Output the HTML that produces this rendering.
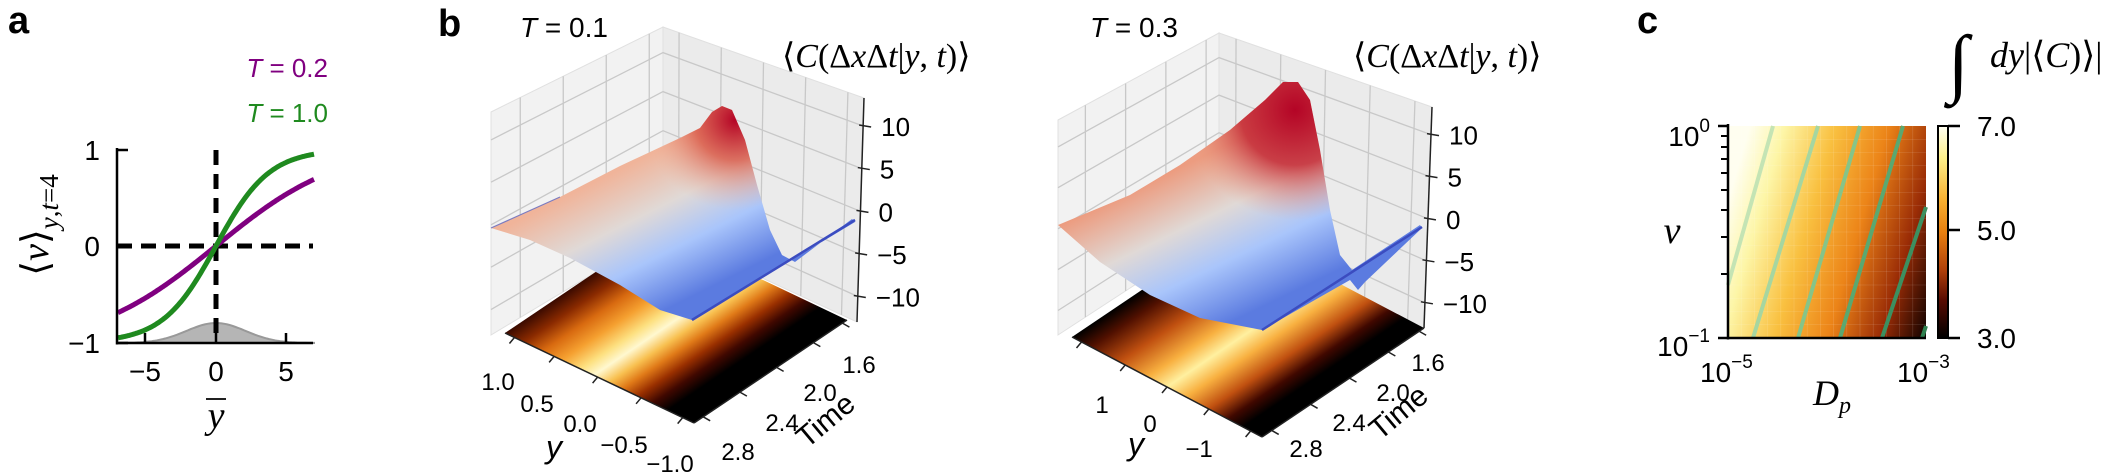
<!DOCTYPE html>
<html><head><meta charset="utf-8"><style>
html,body{margin:0;padding:0;background:#fff;}
svg{display:block;font-family:"Liberation Sans",sans-serif;}
.m{font-family:"Liberation Serif",serif;}
</style></head><body>
<svg id="s" width="2121" height="472" viewBox="0 0 2121 472" xmlns="http://www.w3.org/2000/svg">
<defs>
<linearGradient id="hm1" gradientUnits="userSpaceOnUse" x1="505" y1="333" x2="605.6" y2="482.5">
<stop offset="0" stop-color="#3a0a00"/><stop offset="0.1" stop-color="#8a2a00"/><stop offset="0.2" stop-color="#d86a10"/><stop offset="0.3" stop-color="#f5a030"/><stop offset="0.4" stop-color="#fde080"/><stop offset="0.47" stop-color="#fff8d0"/><stop offset="0.55" stop-color="#f8c050"/><stop offset="0.62" stop-color="#e07a18"/><stop offset="0.7" stop-color="#9a3000"/><stop offset="0.78" stop-color="#400800"/><stop offset="0.86" stop-color="#000"/>
</linearGradient>
<linearGradient id="hm2" gradientUnits="userSpaceOnUse" x1="1072" y1="337" x2="1177.5" y2="493.8">
<stop offset="0" stop-color="#000"/><stop offset="0.1" stop-color="#501000"/><stop offset="0.25" stop-color="#c05010"/><stop offset="0.4" stop-color="#f8b040"/><stop offset="0.5" stop-color="#fff0a0"/><stop offset="0.6" stop-color="#f8b040"/><stop offset="0.72" stop-color="#c05010"/><stop offset="0.82" stop-color="#400800"/><stop offset="0.9" stop-color="#000"/>
</linearGradient>
<linearGradient id="sf1" gradientUnits="userSpaceOnUse" x1="600" y1="180" x2="665" y2="310">
<stop offset="0" stop-color="#f0b49a"/><stop offset="0.35" stop-color="#e0d9d6"/><stop offset="0.65" stop-color="#a9c5fb"/><stop offset="1" stop-color="#5b7be0"/>
</linearGradient>
<linearGradient id="sf2" gradientUnits="userSpaceOnUse" x1="1165" y1="175" x2="1235" y2="320">
<stop offset="0" stop-color="#ec9c80"/><stop offset="0.35" stop-color="#e0d9d6"/><stop offset="0.65" stop-color="#a9c5fb"/><stop offset="1" stop-color="#5b7be0"/>
</linearGradient>
<radialGradient id="rd1" gradientUnits="userSpaceOnUse" cx="735" cy="120" r="90">
<stop offset="0" stop-color="#b40426"/><stop offset="0.45" stop-color="#d95847" stop-opacity="0.8"/><stop offset="1" stop-color="#f0b49a" stop-opacity="0"/>
</radialGradient>
<radialGradient id="rd2" gradientUnits="userSpaceOnUse" cx="1295" cy="110" r="110">
<stop offset="0" stop-color="#b40426"/><stop offset="0.5" stop-color="#c6303a" stop-opacity="0.9"/><stop offset="1" stop-color="#ec9c80" stop-opacity="0"/>
</radialGradient>
<linearGradient id="hc" gradientUnits="userSpaceOnUse" x1="1688" y1="338" x2="1909.4" y2="402.2">
<stop offset="0" stop-color="#fffef0"/><stop offset="0.146" stop-color="#fdf6a8"/><stop offset="0.36" stop-color="#f9c040"/><stop offset="0.58" stop-color="#ec8418"/><stop offset="0.8" stop-color="#9a2c06"/><stop offset="1" stop-color="#0a0000"/>
</linearGradient>
<linearGradient id="cb" x1="0" y1="0" x2="0" y2="1">
<stop offset="0" stop-color="#fffff4"/><stop offset="0.15" stop-color="#fdf08a"/><stop offset="0.35" stop-color="#f8b030"/><stop offset="0.5" stop-color="#e88010"/><stop offset="0.68" stop-color="#b0400a"/><stop offset="0.82" stop-color="#5a0c02"/><stop offset="1" stop-color="#000"/>
</linearGradient>
</defs>
<g id="g"></g>
</svg>
<script>
var NS="http://www.w3.org/2000/svg",G=document.getElementById("g");
function el(t,a,txt){var e=document.createElementNS(NS,t);for(var k in a)e.setAttribute(k,a[k]);if(txt!=null)e.textContent=txt;G.appendChild(e);return e;}
function L(x1,y1,x2,y2,c,w,extra){var a={x1:x1,y1:y1,x2:x2,y2:y2,stroke:c,"stroke-width":w};for(var k in extra)a[k]=extra[k];return el("line",a);}
function lp(P,Q,t){return [P[0]+(Q[0]-P[0])*t,P[1]+(Q[1]-P[1])*t];}
function pts(a){return a.map(function(p){return p[0].toFixed(1)+","+p[1].toFixed(1)}).join(" ");}
function T(x,y,s,size,anchor,extra){var a={x:x,y:y,"font-size":size,"text-anchor":anchor||"start"};for(var k in extra)a[k]=extra[k];return el("text",a,s);}

// ---------- Panel a ----------
T(8,33,"a",38,"start",{"font-weight":"bold"});
T(328,77,"",26,"end",{fill:"#800080"}).innerHTML='<tspan font-style="italic">T</tspan> = 0.2';
T(328,122,"",26,"end",{fill:"#1f8a1f"}).innerHTML='<tspan font-style="italic">T</tspan> = 1.0';
function ax(v){return 216+v*14;} function ay(v){return 246-v*96.5;}
var gp=[[ax(-7),343]];for(var i=0;i<=70;i++){var x=-7+i*0.2;gp.push([ax(x),343-20*Math.exp(-x*x/(2*2.1*2.1))]);}gp.push([ax(7),343]);
el("polygon",{points:pts(gp),fill:"#b5b5b5",stroke:"#999","stroke-width":2});
L(117,246,313,246,"#000",5,{"stroke-dasharray":"15,9"});
L(216,150,216,343,"#000",5,{"stroke-dasharray":"15,9"});
var pp=[],gg=[];for(var i=0;i<=140;i++){var x=-7+i*0.1;pp.push([ax(x),ay(1.06*Math.tanh(x/9))]);gg.push([ax(x),ay(Math.tanh(x/3.8))]);}
el("polyline",{points:pts(pp),fill:"none",stroke:"#800080","stroke-width":5});
el("polyline",{points:pts(gg),fill:"none",stroke:"#1f8a1f","stroke-width":5});
L(117,148,117,344.5,"#000",2.5);L(116,343,313,343,"#000",2.5);
[150,246,343].forEach(function(y){L(117,y,128,y,"#000",2.5);});
[145,216,286].forEach(function(x){L(x,343,x,333,"#000",2.5);});
T(100,160,"1",28,"end");T(100,256,"0",28,"end");T(100,353,"\u22121",28,"end");
T(145,381,"\u22125",28,"middle");T(216,381,"0",28,"middle");T(286,381,"5",28,"middle");
var yl=T(0,0,"",38,"middle",{"class":"m",transform:"translate(48,225) rotate(-90)"});
yl.innerHTML='\u27E8<tspan font-style="italic">v</tspan>\u27E9<tspan font-size="27" font-style="italic" dy="10">y</tspan><tspan font-size="27" dy="0">,</tspan><tspan font-size="27" font-style="italic">t</tspan><tspan font-size="27">=4</tspan>';
T(216,428,"y",38,"middle",{"class":"m","font-style":"italic"});
L(206,399,226,399,"#000",1.8);

// ---------- 3D panels ----------
function panel(o){
 el("polygon",{points:pts([o.TL,o.BT,o.BB,o.BL]),fill:"#f2f2f2",stroke:"#e0e0e0","stroke-width":1});
 el("polygon",{points:pts([o.BT,o.RT,o.RB,o.BB]),fill:"#ebebeb",stroke:"#e0e0e0","stroke-width":1});
 var zf=[0.125,0.315,0.506,0.696,0.886];
 [0.17,0.42,0.67,0.92].forEach(function(f){var a=lp(o.TL,o.BT,f),b=lp(o.BL,o.BB,f);L(a[0],a[1],b[0],b[1],"#c8c8c8",1.3);});
 [0.08,0.29,0.5,0.71,0.92].forEach(function(f){var a=lp(o.BT,o.RT,f),b=lp(o.BB,o.RB,f);L(a[0],a[1],b[0],b[1],"#c8c8c8",1.3);});
 zf.forEach(function(f){var a=lp(o.TL,o.BL,f),b=lp(o.BT,o.BB,f),c=lp(o.RT,o.RB,f);el("polyline",{points:pts([a,b,c]),fill:"none",stroke:"#c8c8c8","stroke-width":1.3});});
 L(o.RT[0],o.RT[1],o.RB[0],o.RB[1],"#222",1.5);
 var zl=["10","5","0","\u22125","\u221210"];
 zf.forEach(function(f,i){var a=lp(o.RT,o.RB,f);L(a[0]-4,a[1]-1,a[0]+8,a[1]+1,"#222",1.5);T(a[0]+18,a[1]+10,zl[i],26,"start");});
 var B=[o.L[0]+o.R[0]-o.F[0],o.L[1]+o.R[1]-o.F[1]];
 el("polygon",{points:pts([o.L,o.F,o.R,B]),fill:"url(#"+o.hm+")"});
 L(o.L[0],o.L[1],o.F[0],o.F[1],"#222",1.5);L(o.F[0],o.F[1],o.R[0],o.R[1],"#222",1.5);
 o.yt.forEach(function(f){var a=lp(o.L,o.F,f);L(a[0],a[1],a[0]-5,a[1]+6,"#222",1.5);});
 o.tt.forEach(function(f){var a=lp(o.F,o.R,f);L(a[0],a[1],a[0]+7,a[1]+4,"#222",1.5);});
 el("polygon",{points:pts(o.S),fill:"url(#"+o.sf+")"});
 el("polygon",{points:pts(o.S),fill:"url(#"+o.rd+")"});
 el("polyline",{points:pts(o.edge),fill:"none",stroke:"#3b4cc0","stroke-width":2.5});
}
panel({TL:[491,112],BT:[663,27],BB:[663,232],BL:[491,335],RT:[864,98],RB:[857,322],
 L:[505,333],F:[694,423],R:[847,320],hm:"hm1",sf:"sf1",rd:"rd1",
 yt:[0.05,0.26,0.49,0.72,0.94],tt:[0.06,0.3,0.54,0.78,0.97],
 S:[[491,228],[560,197],[620,166],[680,138],[700,128],[712,112],[722,106],[732,110],[745,140],[757,185],[770,230],[782,255],[795,262],[852,219],[855,222],[692,320],[660,310],[620,285],[570,258],[530,240]],
 edge:[[692,320],[855,220]]});
panel({TL:[1058,120],BT:[1219,33],BB:[1219,230],BL:[1058,335],RT:[1432,107],RB:[1424,328],
 L:[1072,337],F:[1262,437],R:[1424,328],hm:"hm2",sf:"sf2",rd:"rd2",
 yt:[0.05,0.28,0.5,0.72,0.94],tt:[0.06,0.3,0.54,0.78,0.97],
 S:[[1058,225],[1130,195],[1180,165],[1230,130],[1265,100],[1283,82],[1298,82],[1310,100],[1320,150],[1330,210],[1340,255],[1352,270],[1420,225],[1422,228],[1365,282],[1358,290],[1350,280],[1262,330],[1200,318],[1150,295],[1100,262]],
 edge:[[1262,330],[1422,227]]});
el("line",{x1:491,y1:228,x2:560,y2:197,stroke:"#7b7bc0","stroke-width":1.2});
T(438,36,"b",38,"start",{"font-weight":"bold"});
T(520,37,"",28,"start").innerHTML='<tspan font-style="italic">T</tspan> = 0.1';
T(1090,37,"",28,"start").innerHTML='<tspan font-style="italic">T</tspan> = 0.3';
var cl='\u27E8<tspan font-style="italic">C</tspan>(\u0394<tspan font-style="italic">x</tspan>\u0394<tspan font-style="italic">t</tspan>|<tspan font-style="italic">y</tspan>, <tspan font-style="italic">t</tspan>)\u27E9';
T(782,67,"",34,"start",{"class":"m"}).innerHTML=cl;
T(1353,67,"",34,"start",{"class":"m"}).innerHTML=cl;
[["1.0",498,390],["0.5",537,412],["0.0",580,432],["\u22120.5",624,453],["\u22121.0",670,472]].forEach(function(a){T(a[1],a[2],a[0],24,"middle");});
T(554,458,"y",32,"middle",{"font-style":"italic"});
[["1.6",859,373],["2.0",820,401],["2.4",782,431],["2.8",738,460]].forEach(function(a){T(a[1],a[2],a[0],24,"middle");});
T(0,0,"Time",30,"middle",{transform:"translate(832,428) rotate(-40)"});
[["1",1102,413],["0",1150,432],["\u22121",1199,457]].forEach(function(a){T(a[1],a[2],a[0],24,"middle");});
T(1136,455,"y",32,"middle",{"font-style":"italic"});
[["1.6",1428,371],["2.0",1393,401],["2.4",1349,431],["2.8",1306,457]].forEach(function(a){T(a[1],a[2],a[0],24,"middle");});
T(0,0,"Time",30,"middle",{transform:"translate(1405,420) rotate(-40)"});

// ---------- Panel c ----------
T(1637,33,"c",38,"start",{"font-weight":"bold"});
el("rect",{x:1728,y:126,width:198,height:212,fill:"url(#hc)"});
for(var i=1;i<15;i++){var x=1728+i*13.2;L(x,126,x,338,"#ffffff",0.6,{"stroke-opacity":0.18});}
for(var i=1;i<16;i++){var y=126+i*13.25;L(1728,y,1926,y,"#ffffff",0.6,{"stroke-opacity":0.18});}
var cs=[[[1728,285],[1773,126],"#c4e4b4"],[[1753,338],[1818,126],"#a6d6a0"],[[1798,338],[1860,126],"#86c488"],[[1840,338],[1903,126],"#5aa870"],[[1882,338],[1926,207],"#3c9060"],[[1922,338],[1926,326],"#2f8050"]];
cs.forEach(function(c){L(c[0][0],c[0][1],c[1][0],c[1][1],c[2],4);});
L(1728,124,1728,339.5,"#000",2.5);L(1727,338,1926,338,"#000",2.5);
L(1718,126,1728,126,"#000",2.5);L(1718,338,1728,338,"#000",2.5);
[274,237,210,190,173,159,147,136].forEach(function(y){L(1721,y,1728,y,"#000",2);});
T(1710,146,"",28,"end").innerHTML='10<tspan font-size="19" dy="-14">0</tspan>';
T(1710,356,"",28,"end").innerHTML='10<tspan font-size="19" dy="-14">\u22121</tspan>';
T(1700,382,"",28,"start").innerHTML='10<tspan font-size="19" dy="-14">\u22125</tspan>';
T(1897,382,"",28,"start").innerHTML='10<tspan font-size="19" dy="-14">\u22123</tspan>';
T(1672,243,"v",38,"middle",{"class":"m","font-style":"italic"});
T(1813,405,"",36,"start",{"class":"m"}).innerHTML='<tspan font-style="italic">D</tspan><tspan font-size="24" font-style="italic" dy="8">p</tspan>';
el("rect",{x:1938,y:126,width:10,height:212,fill:"url(#cb)",stroke:"#000","stroke-width":2});
[126,230,338].forEach(function(y){L(1948,y,1960,y,"#000",2.5);});
T(1977,136,"7.0",28,"start");T(1977,240,"5.0",28,"start");T(1977,348,"3.0",28,"start");
T(1948,88,"\u222B",76,"start",{"class":"m","font-style":"italic"});
T(1990,67,"",36,"start",{"class":"m"}).innerHTML='<tspan font-style="italic">dy</tspan>|\u27E8<tspan font-style="italic">C</tspan>)\u27E9|';
</script>
</body></html>
